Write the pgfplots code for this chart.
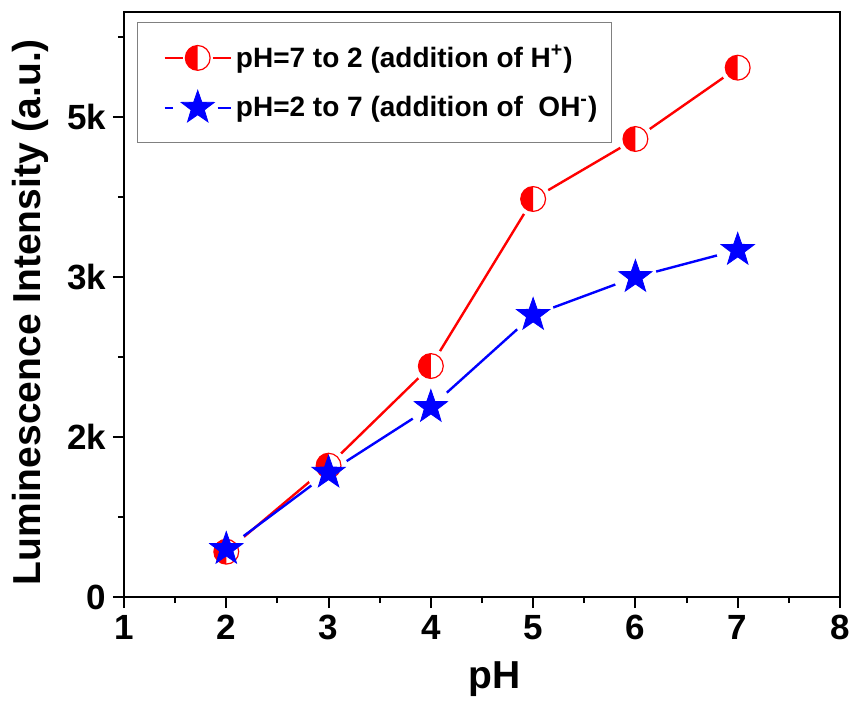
\documentclass[border=0pt]{standalone}
\usepackage{fontspec}
\setmainfont{Liberation Sans}
\usepackage{pgfplots}
\usepackage{pgfplotstable}
\pgfplotsset{compat=1.18}

% filled five-pointed star
\pgfdeclareplotmark{fstar}{%
  \pgfpathmoveto{\pgfpointpolar{90}{\pgfplotmarksize}}%
  \pgfpathlineto{\pgfpointpolar{126}{0.4\pgfplotmarksize}}%
  \pgfpathlineto{\pgfpointpolar{162}{\pgfplotmarksize}}%
  \pgfpathlineto{\pgfpointpolar{198}{0.4\pgfplotmarksize}}%
  \pgfpathlineto{\pgfpointpolar{234}{\pgfplotmarksize}}%
  \pgfpathlineto{\pgfpointpolar{270}{0.4\pgfplotmarksize}}%
  \pgfpathlineto{\pgfpointpolar{306}{\pgfplotmarksize}}%
  \pgfpathlineto{\pgfpointpolar{342}{0.4\pgfplotmarksize}}%
  \pgfpathlineto{\pgfpointpolar{18}{\pgfplotmarksize}}%
  \pgfpathlineto{\pgfpointpolar{54}{0.4\pgfplotmarksize}}%
  \pgfpathclose
  \pgfusepathqfillstroke}

% circle, left half filled
\pgfdeclareplotmark{lhalfcirc}{%
  \pgfscope
  \pgfsetfillcolor{white}%
  \pgfpathcircle{\pgfpointorigin}{\pgfplotmarksize}%
  \pgfusepathqfill
  \endpgfscope
  \pgfpathmoveto{\pgfpoint{0pt}{\pgfplotmarksize}}%
  \pgfpatharc{90}{270}{\pgfplotmarksize}%
  \pgfpathclose
  \pgfusepathqfill
  \pgfpathcircle{\pgfpointorigin}{\pgfplotmarksize}%
  \pgfusepathqstroke}

\pgfplotstableread{
x y
2 472
3 1368
4 2406
5 4146
6 4771
7 5514
}\acidtable

\pgfplotstableread{
x y
2 500
3 1295
4 1979
5 2938
6 3333
7 3615
}\basetable

\begin{document}
\begin{tikzpicture}
\begin{axis}[
    scale only axis,
    width=358pt, height=292.5pt,
    xmin=1, xmax=8,
    ymin=0, ymax=6094,
    axis line style={line width=1pt},
    xtick={1,2,3,4,5,6,7,8},
    minor x tick num=1,
    ytick={0,1666.67,3333.33,5000},
    yticklabels={0,2k,3k,5k},
    minor ytick={833.33,2500,4166.67,5833.33},
    scaled y ticks=false,
    xtick pos=bottom, ytick pos=left,
    tick align=outside,
    major tick length=5.5pt, minor tick length=3pt,
    every tick/.style={black, line width=1pt},
    /pgf/number format/assume math mode=true,
    tick label style={font=\fontsize{17.5}{18}\selectfont\bfseries},
    label style={font=\fontsize{19.5}{20}\selectfont\bfseries},
    xlabel={pH},
    ylabel={Luminescence Intensity (a.u.)},
    xlabel style={at={(axis description cs:0.517,-0.1556)}, anchor=base},
    ylabel style={at={(axis description cs:-0.131,0.487)}, anchor=center},
    legend style={
        at={(rel axis cs:0.0182,0.983)}, anchor=north west,
        draw=gray, line width=0.5pt,
        font=\fontsize{14}{15}\selectfont\bfseries,
        inner xsep=5pt, inner ysep=9.5pt,
        row sep=8pt,
        cells={anchor=west},
        /tikz/every odd column/.append style={column sep=0pt},
    },
]
% connecting lines
\addplot[red, line width=1.2pt, mark=none,
    legend image code/.code={
        \path (0pt,0pt);
        \draw[red, line width=1.2pt] (8pt,0pt) -- (17pt,0pt);
        \draw[red, line width=1.2pt] (32pt,0pt) -- (41pt,0pt);
        \draw[red, fill=red, line width=0.6pt]
            plot[mark=lhalfcirc, mark size=6.2pt] coordinates {(24.5pt,0pt)};
    }] table {\acidtable};
\addlegendentry{pH=7 to 2 (addition of H\textsuperscript{+})}
\addplot[blue, line width=1.2pt, mark=none,
    legend image code/.code={
        \path (0pt,0pt);
        \draw[blue, line width=1.2pt] (8pt,0pt) -- (12pt,0pt);
        \draw[blue, line width=1.2pt] (34.5pt,0pt) -- (41pt,0pt);
        \draw[blue, fill=blue, line width=0.4pt]
            plot[mark=fstar, mark size=8.7pt] coordinates {(24.5pt,0pt)};
    }] table {\basetable};
\addlegendentry{pH=2 to 7 (addition of~~OH\textsuperscript{-})}
% white halos leave gaps between lines and symbols
\addplot[only marks, mark=*, mark size=8.5pt, white, forget plot] table {\acidtable};
\addplot[only marks, mark=*, mark size=10.5pt, white, forget plot] table {\basetable};
% symbols
\addplot[only marks, mark=lhalfcirc, mark size=6.2pt,
    mark options={draw=red, fill=red, line width=0.6pt}, forget plot] table {\acidtable};
\addplot[only marks, mark=fstar, mark size=8.7pt,
    mark options={draw=blue, fill=blue, line width=0.4pt}, forget plot] table {\basetable};
\coordinate (sw) at (rel axis cs:0,0);
\coordinate (ne) at (rel axis cs:1,1);
\end{axis}
\pgfresetboundingbox
\path[use as bounding box] ([shift={(-62pt,-51.5pt)}]sw) rectangle ([shift={(8pt,6pt)}]ne);
\end{tikzpicture}
\end{document}
